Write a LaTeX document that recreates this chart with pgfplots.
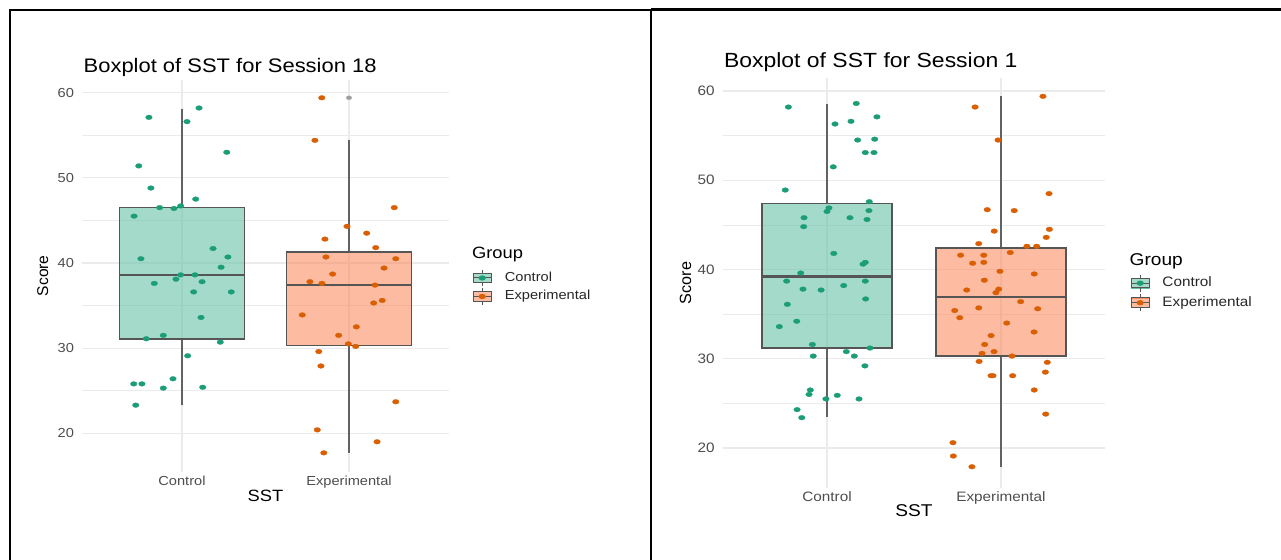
\documentclass[border=0pt]{standalone}
\usepackage{fontspec}
\setmainfont{Liberation Sans}[FakeStretch=1.12]
\newfontfamily\plainsans{Liberation Sans}
\usepackage{pgfplots}
\usepackage{pgfplotstable}
\pgfplotsset{compat=1.18}
\definecolor{ctrl}{HTML}{1B9E77}
\definecolor{expe}{HTML}{D95F02}
\definecolor{ctrlfill}{HTML}{66C2A5}
\definecolor{expefill}{HTML}{FC8D62}
\definecolor{gridc}{HTML}{EBEBEB}
\definecolor{tickc}{HTML}{4D4D4D}
\definecolor{boxline}{HTML}{555555}
\definecolor{whiskc}{HTML}{626262}
\newcommand{\fs}[1]{\fontsize{#1}{#1}\selectfont}

% Session 18 (left)
\pgfplotstableread{
x y
0.802 57.1
1.102 58.2
1.030 56.6
1.268 53.0
0.741 51.4
0.814 48.8
1.082 47.5
0.866 46.5
0.952 46.4
0.992 46.7
0.713 45.5
1.186 41.7
0.754 40.5
1.275 40.7
1.234 39.5
0.992 38.6
0.964 38.1
1.078 38.6
0.834 37.6
1.120 37.8
1.070 36.6
1.295 36.6
1.114 33.6
0.786 31.1
0.888 31.5
1.229 30.7
1.034 29.1
0.711 25.8
0.760 25.8
0.946 26.4
0.888 25.3
1.124 25.4
0.723 23.3
}\LCtrl
\pgfplotstableread{
x y
1.837 59.4
1.796 54.4
2.271 46.5
1.988 44.3
2.106 43.5
1.856 42.8
2.160 41.8
1.862 40.7
2.280 40.5
2.210 39.4
1.902 38.7
1.766 37.8
1.838 37.6
2.156 37.4
2.148 35.3
2.199 35.6
1.720 33.9
2.044 32.5
1.938 31.5
1.996 30.5
2.040 30.2
1.819 29.6
1.832 27.9
2.280 23.7
1.810 20.4
2.168 19.0
1.849 17.7
}\LExp
% Session 1 (right)
\pgfplotstableread{
x y
0.778 58.2
1.168 58.6
1.046 56.3
1.138 56.6
1.287 57.1
1.176 54.5
1.274 54.6
1.220 53.1
1.270 53.1
1.036 51.5
0.760 48.9
1.243 47.6
1.011 46.9
1.000 46.5
1.241 46.6
0.868 45.8
1.132 45.8
1.230 45.6
0.866 44.8
1.039 41.8
1.207 40.6
1.220 40.8
0.849 39.6
0.768 38.7
0.862 37.8
0.966 37.7
1.096 38.2
1.220 38.7
1.222 36.7
0.772 36.1
0.826 34.2
0.726 33.6
0.916 31.6
1.247 31.2
0.921 30.3
1.111 30.8
1.157 30.3
1.218 29.2
0.904 26.5
0.897 26.0
1.059 25.9
0.994 25.5
1.184 25.5
0.828 24.3
0.855 23.4
}\RCtrl
\pgfplotstableread{
x y
2.241 59.4
1.851 58.2
1.983 54.5
2.276 48.5
1.921 46.7
2.076 46.6
1.961 44.3
2.278 44.5
2.260 43.6
1.872 42.9
2.149 42.6
2.205 42.6
1.768 41.6
1.901 41.6
2.053 41.9
1.837 40.7
1.901 40.8
1.994 39.8
2.191 39.5
1.904 38.8
1.803 37.7
1.971 37.4
1.987 37.8
2.113 36.4
1.734 35.4
1.763 34.6
1.872 35.7
2.211 35.6
2.033 34.0
2.190 33.0
1.943 32.6
1.906 31.6
1.891 30.6
1.960 30.8
2.063 30.3
1.874 29.7
2.266 29.6
1.943 28.1
1.954 28.1
2.067 28.1
2.255 28.5
2.191 26.5
2.257 23.8
1.724 20.6
1.726 19.1
1.833 17.9
}\RExp

\pgfplotsset{
  sstbase/.style={
    scale only axis, anchor=south west, clip mode=individual,
    xmin=0.4, xmax=2.6, ymin=15.5, ymax=61.5,
    axis line style={draw=none}, major tick length=0pt, minor tick length=0pt,
    xtick={1,2}, xticklabels={Control,Experimental},
    ytick={20,30,40,50,60}, minor ytick={25,35,45,55},
    xmajorgrids, ymajorgrids, yminorgrids,
    major grid style={draw=gridc, line width=0.6pt},
    minor grid style={draw=gridc, line width=0.35pt},
    /pgf/number format/assume math mode=true,
    tick label style={text=tickc, inner sep=0pt},
    legend cell align=left,
  },
  boxkey/.style 2 args={legend image code/.code={
    \fill[#2, fill opacity=0.6] (0pt,-2.4pt) rectangle (9pt,2.4pt);
    \draw[boxline, line width=0.5pt] (0pt,-2.4pt) rectangle (9pt,2.4pt);
    \draw[boxline, line width=0.5pt] (4.5pt,-4.2pt) -- (4.5pt,-2.4pt) (4.5pt,2.4pt) -- (4.5pt,4.2pt) (0pt,0pt) -- (9pt,0pt);
    \fill[#1] (4.5pt,0pt) ellipse (1.6pt and 1.1pt);
  }},
  ptstyle/.style={only marks, mark=*, mark size=1.2pt, mark options={xscale=1.4, draw=#1, fill=#1, line width=0.1pt}},
  whisk/.style={forget plot, draw=whiskc, line width=0.8pt, mark=none},
  boxrect/.style={forget plot, draw=boxline, line width=0.8pt, fill=#1, fill opacity=0.6, mark=none, line join=miter, line cap=rect},
  medline/.style={forget plot, draw=boxline, line width=1.3pt, mark=none},
}

\begin{document}
\begin{tikzpicture}
\path[use as bounding box] (0pt,0pt) rectangle (640.5pt,280pt);

% ---------------- left panel: Session 18
\begin{axis}[sstbase,
  at={(40.9pt,44.2pt)}, width=183.7pt, height=195.85pt,
  xticklabel style={anchor=base, yshift=-6.8pt, font=\fs{6.53pt}},
  yticklabel style={anchor=east, xshift=-3.75pt, font=\fs{6.53pt}},
  title={Boxplot of SST for Session 18},
  every axis title/.style={at={(0,1)}, anchor=base west, inner sep=0pt, yshift=3.8pt, xshift=0.75pt, font=\fs{9.8pt}},
  xlabel={SST},
  every axis x label/.style={at={(axis description cs:0.5,-0.061)}, anchor=center, inner sep=0pt, font=\fs{8.17pt}},
  ylabel={Score},
  every axis y label/.style={at={(axis description cs:-0.1062,0.5)}, rotate=90, anchor=center, inner sep=0pt, font=\plainsans\fs{7.8pt}},
  legend style={at={(1.064,0.517)}, anchor=north west, draw=none, fill=none, inner sep=0pt, outer sep=0pt, row sep=0.35pt, column sep=6.6pt, font=\fs{6.53pt}, nodes={inner sep=0pt, text=black!85}},
]
% Control box: whiskers 23.3 / 58.1, quartiles 31.1 / 46.5, median 38.6
\addplot[whisk] coordinates {(1,46.5) (1,58.1)};
\addplot[whisk] coordinates {(1,23.3) (1,31.1)};
\addplot[boxrect=ctrlfill] coordinates {(0.625,31.1) (1.375,31.1) (1.375,46.5) (0.625,46.5) (0.625,31.1)};
\addplot[medline] coordinates {(0.625,38.6) (1.375,38.6)};
% Experimental box: whiskers 17.7 / 54.4, quartiles 30.3 / 41.3, median 37.4
\addplot[whisk] coordinates {(2,41.3) (2,54.4)};
\addplot[whisk] coordinates {(2,17.7) (2,30.3)};
\addplot[boxrect=expefill] coordinates {(1.625,30.3) (2.375,30.3) (2.375,41.3) (1.625,41.3) (1.625,30.3)};
\addplot[medline] coordinates {(1.625,37.4) (2.375,37.4)};
% outlier
\addplot[forget plot, only marks, mark=*, mark size=1pt, mark options={xscale=1.4, draw=gray!75, fill=gray!75, line width=0.1pt}] coordinates {(2,59.4)};
\addplot[forget plot, ptstyle=ctrl] table[x=x, y=y] {\LCtrl};
\addplot[forget plot, ptstyle=expe] table[x=x, y=y] {\LExp};
\addlegendimage{boxkey={ctrl}{ctrlfill}}
\addlegendentry{Control}
\addlegendimage{boxkey={expe}{expefill}}
\addlegendentry{Experimental}
\end{axis}

% ---------------- right panel: Session 1
\begin{axis}[sstbase,
  at={(361.3pt,35.9pt)}, width=191.4pt, height=205.3pt,
  xticklabel style={anchor=base, yshift=-6.7pt, font=\fs{6.83pt}},
  yticklabel style={anchor=east, xshift=-3.8pt, font=\fs{6.83pt}},
  title={Boxplot of SST for Session 1},
  every axis title/.style={at={(0,1)}, anchor=base west, inner sep=0pt, yshift=5pt, xshift=0.5pt, font=\fs{10.25pt}},
  xlabel={SST},
  every axis x label/.style={at={(axis description cs:0.5,-0.0548)}, anchor=center, inner sep=0pt, font=\fs{8.53pt}},
  ylabel={Score},
  every axis y label/.style={at={(axis description cs:-0.0967,0.5)}, rotate=90, anchor=center, inner sep=0pt, font=\plainsans\fs{8.1pt}},
  legend style={at={(1.066,0.521)}, anchor=north west, draw=none, fill=none, inner sep=0pt, outer sep=0pt, row sep=0.9pt, column sep=6.4pt, font=\fs{6.83pt}, nodes={inner sep=0pt, text=black!85}},
]
% Control box: whiskers 23.5 / 58.5, quartiles 31.2 / 47.4, median 39.2
\addplot[whisk] coordinates {(1,47.4) (1,58.5)};
\addplot[whisk] coordinates {(1,23.5) (1,31.2)};
\addplot[boxrect=ctrlfill] coordinates {(0.625,31.2) (1.375,31.2) (1.375,47.4) (0.625,47.4) (0.625,31.2)};
\addplot[medline] coordinates {(0.625,39.2) (1.375,39.2)};
% Experimental box: whiskers 17.9 / 59.4, quartiles 30.3 / 42.4, median 36.9
\addplot[whisk] coordinates {(2,42.4) (2,59.4)};
\addplot[whisk] coordinates {(2,17.9) (2,30.3)};
\addplot[boxrect=expefill] coordinates {(1.625,30.3) (2.375,30.3) (2.375,42.4) (1.625,42.4) (1.625,30.3)};
\addplot[medline] coordinates {(1.625,36.9) (2.375,36.9)};
\addplot[forget plot, ptstyle=ctrl] table[x=x, y=y] {\RCtrl};
\addplot[forget plot, ptstyle=expe] table[x=x, y=y] {\RExp};
\addlegendimage{boxkey={ctrl}{ctrlfill}}
\addlegendentry{Control}
\addlegendimage{boxkey={expe}{expefill}}
\addlegendentry{Experimental}
\end{axis}

% legend titles
\node[anchor=base west, inner sep=0pt, font=\fs{8.17pt}] at (235.85pt,150.5pt) {Group};
\node[anchor=base west, inner sep=0pt, font=\fs{8.53pt}] at (564.65pt,147.4pt) {Group};

% frame lines
\draw[line width=1pt, black] (5pt,0pt) -- (5pt,275pt) -- (325.5pt,275pt);
\draw[line width=1.5pt, black] (325.5pt,275.2pt) -- (640.5pt,275.2pt);
\draw[line width=1pt, black] (325.5pt,0pt) -- (325.5pt,275pt);
\end{tikzpicture}
\end{document}
